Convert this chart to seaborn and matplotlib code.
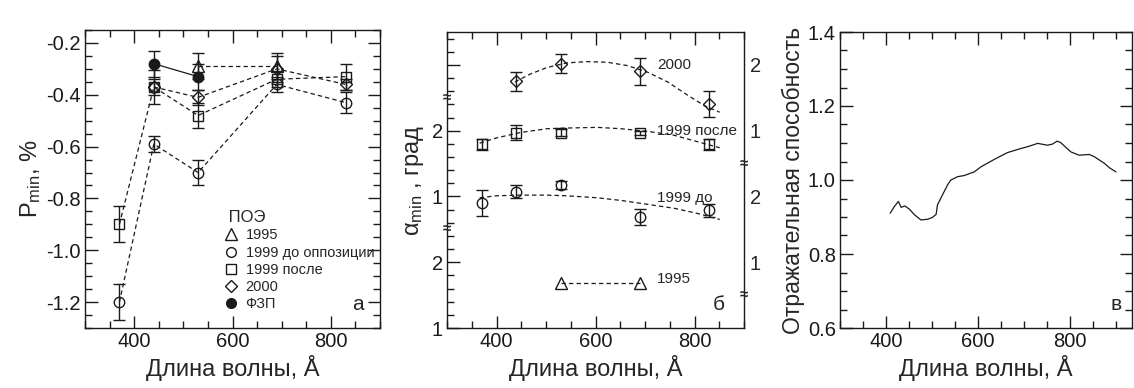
import numpy as np
import pandas as pd
import seaborn as sns
import matplotlib.pyplot as plt
from matplotlib.lines import Line2D
from matplotlib.ticker import MultipleLocator

sns.set_theme(style='ticks')
plt.rcParams['font.family'] = ['Liberation Sans', 'DejaVu Sans']
plt.rcParams['axes.unicode_minus'] = False
plt.rcParams['mathtext.fontset'] = 'custom'
plt.rcParams['mathtext.rm'] = 'Liberation Sans'
plt.rcParams['mathtext.it'] = 'Liberation Sans:italic'

# --- panel a: P_min ---
p1995_x = [530, 690]
p1995 = [-0.29, -0.29]
p1995_err = [0.05, 0.05]
p99do_x = [370, 440, 530, 690, 830]
p99do = [-1.20, -0.59, -0.70, -0.36, -0.43]
p99do_err = [0.07, 0.03, 0.05, 0.03, 0.04]
p99po_x = [370, 440, 530, 690, 830]
p99po = [-0.90, -0.37, -0.48, -0.34, -0.33]
p99po_err = [0.07, 0.065, 0.05, 0.03, 0.05]
p2000_x = [440, 530, 690, 830]
p2000 = [-0.37, -0.41, -0.30, -0.36]
p2000_err = [0.03, 0.03, 0.05, 0.02]
pfzp_x = [440, 530]
pfzp = [-0.28, -0.33]
pfzp_err = [0.05, 0.05]
pextra_x = [440]
pextra = [-0.37]

# --- panel b: alpha_min (stacked, shifted scale) ---
a2000_x = [440, 530, 690, 830]
a2000 = [3.75, 4.02, 3.90, 3.41]
a2000_err = [0.14, 0.15, 0.20, 0.20]
a99po_x = [370, 440, 530, 690, 830]
a99po = [2.79, 2.97, 2.97, 2.97, 2.79]
a99po_err = [0.09, 0.11, 0.05, 0.03, 0.08]
a99do_x = [370, 440, 530, 690, 830]
a99do = [1.90, 2.07, 2.17, 1.69, 1.79]
a99do_err = [0.20, 0.10, 0.06, 0.12, 0.10]
a1995_x = [530, 690]
a1995 = [0.69, 0.69]

fit_x = [366, 400, 447, 502, 542, 603, 651, 705, 759, 807, 851]
fit99po = [2.81, 2.89, 2.97, 3.03, 3.04, 3.05, 3.03, 2.99, 2.93, 2.83, 2.74]
fit99do = [1.98, 2.01, 2.02, 2.02, 2.01, 1.98, 1.94, 1.88, 1.82, 1.74, 1.65]
fit2000_x = [437, 468, 502, 542, 583, 624, 664, 705, 746, 786, 820, 851]
fit2000 = [3.74, 3.86, 3.96, 4.03, 4.05, 4.04, 3.99, 3.89, 3.74, 3.54, 3.38, 3.28]

# --- panel c: reflectance ---
refl_x = [409, 418, 427, 433, 441, 451, 462, 476, 491, 501, 509, 512, 523, 534,
          541, 556, 570, 592, 607, 636, 664, 693, 708, 730, 751, 762, 772, 780,
          802, 820, 842, 853, 875, 886, 900]
refl_y = [0.910, 0.928, 0.942, 0.926, 0.930, 0.921, 0.906, 0.892, 0.894, 0.899,
          0.907, 0.933, 0.960, 0.987, 1.000, 1.009, 1.012, 1.022, 1.036, 1.056,
          1.074, 1.085, 1.090, 1.099, 1.094, 1.097, 1.105, 1.101, 1.076, 1.067,
          1.069, 1.063, 1.045, 1.033, 1.022]

W, H = 1134, 388
fig = plt.figure(figsize=(W / 100, H / 100), dpi=100)


def box(l, r, t, b):
    return [l / W, (H - b) / H, (r - l) / W, (b - t) / H]


ax1 = fig.add_axes(box(85, 380, 30, 328))
ax2 = fig.add_axes(box(447, 744, 32, 328))
ax3 = fig.add_axes(box(840, 1132, 32, 328))

tick_fs = 14.5
lab_fs = 17
dash = (0, (3.5, 2.5))
ms = 7.5


def style_axis(ax):
    ax.tick_params(which='both', direction='in', top=True, right=True,
                   labelsize=tick_fs, colors='k', pad=3)
    ax.tick_params(which='major', length=9, width=1)
    ax.tick_params(which='minor', length=5, width=1)
    for s in ax.spines.values():
        s.set_linewidth(1)
        s.set_color('k')
    ax.xaxis.set_major_locator(MultipleLocator(200))
    ax.xaxis.set_minor_locator(MultipleLocator(50))
    ax.set_xlabel('Длина волны, Å', fontsize=lab_fs, labelpad=3)


def series(ax, x, y, err, marker, ls=dash, fill='none', size=ms):
    sns.lineplot(x=x, y=y, ax=ax, color='k', lw=0.9, linestyle=ls, sort=False)
    ax.errorbar(x, y, yerr=err, fmt=marker, ms=size, mfc=fill, mec='k', mew=1,
                ecolor='k', elinewidth=1, capsize=4, capthick=1, zorder=3)


# panel a
series(ax1, p99do_x, p99do, p99do_err, 'o')
series(ax1, p99po_x, p99po, p99po_err, 's', size=7)
series(ax1, p2000_x, p2000, p2000_err, 'D', size=6.5)
series(ax1, p1995_x, p1995, p1995_err, '^', size=8)
series(ax1, pfzp_x, pfzp, pfzp_err, 'o', ls='-', fill='k')
ax1.plot(pextra_x, pextra, 'o', ms=ms, mfc='none', mec='k', mew=1)
style_axis(ax1)
ax1.set_xlim(300, 900)
ax1.set_ylim(-1.3, -0.15)
ax1.yaxis.set_major_locator(MultipleLocator(0.2))
ax1.yaxis.set_minor_locator(MultipleLocator(0.05))
ax1.yaxis.set_major_formatter(plt.FormatStrFormatter('%.1f'))
ax1.set_ylabel(r'P$_{\rm min}$, %', fontsize=lab_fs, labelpad=2)
ax1.text(0.925, 0.08, 'а', transform=ax1.transAxes, fontsize=15,
         ha='center', va='center')
handles = [
    Line2D([], [], ls='none', marker='^', ms=8, mfc='none', mec='k'),
    Line2D([], [], ls='none', marker='o', ms=7, mfc='none', mec='k'),
    Line2D([], [], ls='none', marker='s', ms=7, mfc='none', mec='k'),
    Line2D([], [], ls='none', marker='D', ms=6.5, mfc='none', mec='k'),
    Line2D([], [], ls='none', marker='o', ms=7, mfc='k', mec='k'),
]
labels = ['1995', '1999 до оппозиции', '1999 после', '2000', 'ФЗП']
leg = ax1.legend(handles, labels, title=' ПОЭ', loc='upper left',
                 bbox_to_anchor=(0.47, 0.395), frameon=False, fontsize=10.5,
                 title_fontsize=12, handlelength=1.0, handletextpad=0.5,
                 labelspacing=0.22, borderpad=0, borderaxespad=0)
leg._legend_box.align = 'left'

# panel b
sns.lineplot(x=fit2000_x, y=fit2000, ax=ax2, color='k', lw=0.9, linestyle=dash)
sns.lineplot(x=fit_x, y=fit99po, ax=ax2, color='k', lw=0.9, linestyle=dash)
sns.lineplot(x=fit_x, y=fit99do, ax=ax2, color='k', lw=0.9, linestyle=dash)
sns.lineplot(x=a1995_x, y=a1995, ax=ax2, color='k', lw=0.9, linestyle=dash)
ax2.errorbar(a2000_x, a2000, yerr=a2000_err, fmt='D', ms=6.5, mfc='none',
             mec='k', ecolor='k', elinewidth=1, capsize=4, zorder=3)
ax2.errorbar(a99po_x, a99po, yerr=a99po_err, fmt='s', ms=7, mfc='none',
             mec='k', ecolor='k', elinewidth=1, capsize=4, zorder=3)
ax2.errorbar(a99do_x, a99do, yerr=a99do_err, fmt='o', ms=ms, mfc='none',
             mec='k', ecolor='k', elinewidth=1, capsize=4, zorder=3)
ax2.plot(a1995_x, a1995, '^', ms=8, mfc='none', mec='k', mew=1, zorder=3)
style_axis(ax2)
ax2.set_xlim(300, 900)
ax2.set_ylim(0, 4.5)
ax2.yaxis.set_minor_locator(MultipleLocator(0.2))
ax2.set_yticks([0, 1, 2, 3, 4])
ax2.set_yticklabels(['1', '2', '1', '2', ''])
ax2.set_ylabel('α' + r'$_{\rm min}$ , град', fontsize=lab_fs, labelpad=4)
axr = ax2.twinx()
axr.set_ylim(0, 4.5)
axr.set_yticks([1, 2, 3, 4])
axr.set_yticklabels(['1', '2', '1', '2'])
axr.tick_params(direction='in', length=0, labelsize=tick_fs, pad=4)
for s in axr.spines.values():
    s.set_visible(False)
for txt, yy in [('2000', 4.0), ('1999 после', 3.0), ('1999 до', 1.98), ('1995', 0.74)]:
    ax2.text(725, yy, txt, fontsize=11, ha='left', va='center')
ax2.text(0.915, 0.08, 'б', transform=ax2.transAxes, fontsize=15,
         ha='center', va='center')
for yy in [3.5, 1.5]:
    ax2.text(0.0, yy, '≈', transform=ax2.get_yaxis_transform(), fontsize=11,
             fontweight='bold', ha='center', va='center', clip_on=False, zorder=5)
for yy in [2.5, 0.5]:
    ax2.text(1.0, yy, '≈', transform=ax2.get_yaxis_transform(), fontsize=11,
             fontweight='bold', ha='center', va='center', clip_on=False, zorder=5)

# panel c
sns.lineplot(x=refl_x, y=refl_y, ax=ax3, color='k', lw=0.9, sort=False)
style_axis(ax3)
ax3.set_xlim(300, 935)
ax3.set_ylim(0.6, 1.4)
ax3.yaxis.set_major_locator(MultipleLocator(0.2))
ax3.yaxis.set_minor_locator(MultipleLocator(0.05))
ax3.yaxis.set_major_formatter(plt.FormatStrFormatter('%.1f'))
ax3.set_ylabel('Отражательная способность', fontsize=16.5, labelpad=2)
ax3.text(0.945, 0.08, 'в', transform=ax3.transAxes, fontsize=15,
         ha='center', va='center')

fig.savefig('out.png', dpi=100, facecolor='white')
